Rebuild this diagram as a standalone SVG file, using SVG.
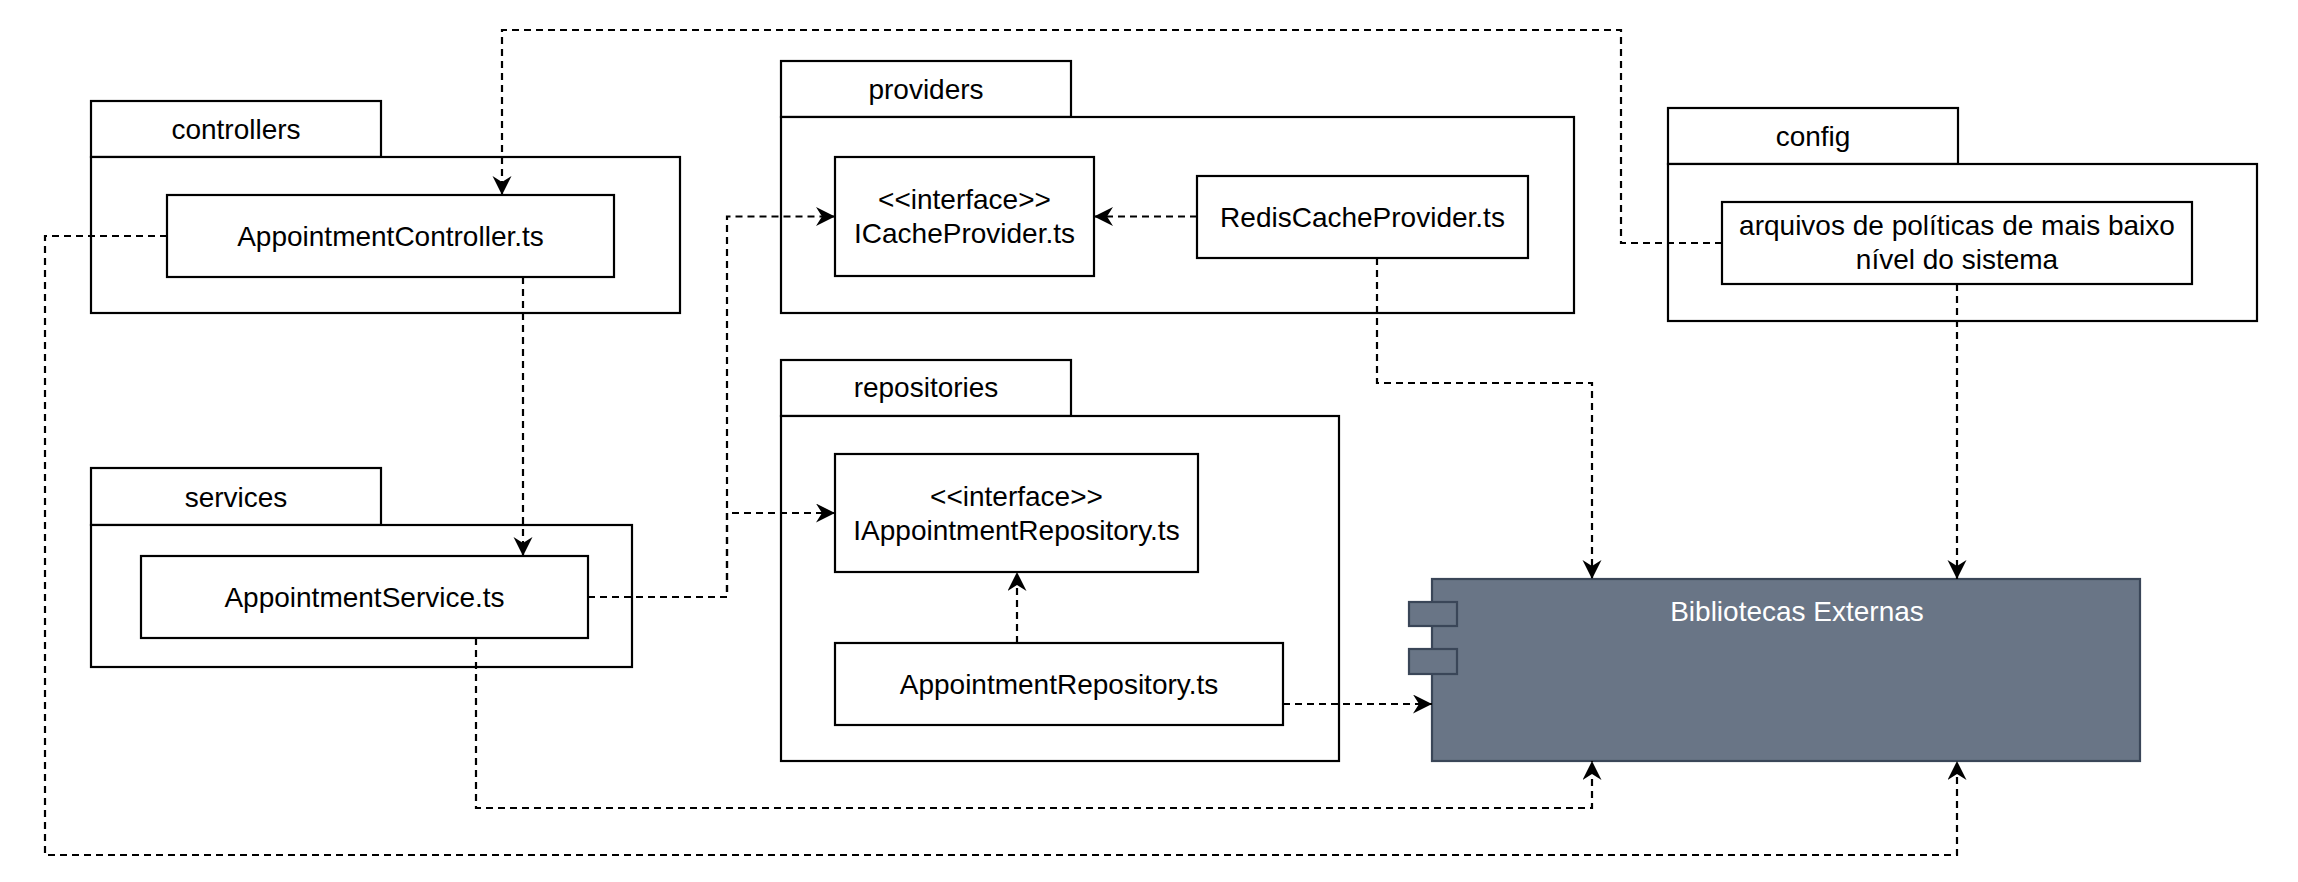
<svg xmlns="http://www.w3.org/2000/svg" width="2298" height="882" viewBox="0 0 2298 882">
<style>
.box{fill:#ffffff;stroke:#000000;stroke-width:2.2}
.lbl{font-family:"Liberation Sans",Arial,Helvetica,sans-serif;font-size:28px;fill:#000000;text-anchor:middle}
.edge{fill:none;stroke:#000000;stroke-width:2.2;stroke-dasharray:7 5}
.comp{fill:#697586;stroke:#3a4658;stroke-width:2.2}
.wl{font-family:"Liberation Sans",Arial,Helvetica,sans-serif;font-size:28px;fill:#ffffff;text-anchor:middle}
</style>
<defs>
<marker id="arr" markerWidth="20" markerHeight="20" refX="19" refY="9.5" orient="auto" markerUnits="userSpaceOnUse">
<path d="M0,0 L19,9.5 L0,19 L6,9.5 Z" fill="#000000"/>
</marker>
</defs>
<rect width="2298" height="882" fill="#ffffff"/>

<g id="pkg-controllers">
<rect class="box" x="91" y="101" width="290" height="56"/>
<rect class="box" x="91" y="157" width="589" height="156"/>
<text class="lbl" x="236" y="139">controllers</text>
</g>
<g id="pkg-providers">
<rect class="box" x="781" y="61" width="290" height="56"/>
<rect class="box" x="781" y="117" width="793" height="196"/>
<text class="lbl" x="926" y="99">providers</text>
</g>
<g id="pkg-config">
<rect class="box" x="1668" y="108" width="290" height="56"/>
<rect class="box" x="1668" y="164" width="589" height="157"/>
<text class="lbl" x="1813" y="146">config</text>
</g>
<g id="pkg-services">
<rect class="box" x="91" y="468" width="290" height="57"/>
<rect class="box" x="91" y="525" width="541" height="142"/>
<text class="lbl" x="236" y="507">services</text>
</g>
<g id="pkg-repositories">
<rect class="box" x="781" y="360" width="290" height="56"/>
<rect class="box" x="781" y="416" width="558" height="345"/>
<text class="lbl" x="926" y="397">repositories</text>
</g>

<g id="AppointmentController">
<rect class="box" x="167" y="195" width="447" height="82"/>
<text class="lbl" x="390.5" y="246">AppointmentController.ts</text>
</g>
<g id="ICacheProvider">
<rect class="box" x="835" y="157" width="259" height="119"/>
<text class="lbl" x="964.5" y="209">&lt;&lt;interface&gt;&gt;</text>
<text class="lbl" x="964.5" y="243">ICacheProvider.ts</text>
</g>
<g id="RedisCacheProvider">
<rect class="box" x="1197" y="176" width="331" height="82"/>
<text class="lbl" x="1362.5" y="227">RedisCacheProvider.ts</text>
</g>
<g id="ConfigFiles">
<rect class="box" x="1722" y="202" width="470" height="82"/>
<text class="lbl" x="1957" y="235">arquivos de políticas de mais baixo</text>
<text class="lbl" x="1957" y="269">nível do sistema</text>
</g>
<g id="AppointmentService">
<rect class="box" x="141" y="556" width="447" height="82"/>
<text class="lbl" x="364.5" y="607">AppointmentService.ts</text>
</g>
<g id="IAppointmentRepository">
<rect class="box" x="835" y="454" width="363" height="118"/>
<text class="lbl" x="1016.5" y="506">&lt;&lt;interface&gt;&gt;</text>
<text class="lbl" x="1016.5" y="540">IAppointmentRepository.ts</text>
</g>
<g id="AppointmentRepository">
<rect class="box" x="835" y="643" width="448" height="82"/>
<text class="lbl" x="1059" y="694">AppointmentRepository.ts</text>
</g>
<g id="BibliotecasExternas">
<rect class="comp" x="1432" y="579" width="708" height="182"/>
<rect class="comp" x="1409" y="602" width="48" height="24"/>
<rect class="comp" x="1409" y="649" width="48" height="25"/>
<text class="wl" x="1797" y="621">Bibliotecas Externas</text>
</g>

<g id="connectors">
<path class="edge" d="M1722,243 H1621 V30 H502 V195" marker-end="url(#arr)"/>
<path class="edge" d="M523,277 V556" marker-end="url(#arr)"/>
<path class="edge" d="M167,236 H45 V855 H1957 V761" marker-end="url(#arr)"/>
<path class="edge" d="M588,597 H727 V216.5 H835" marker-end="url(#arr)"/>
<path class="edge" d="M588,597 H727 V513 H835" marker-end="url(#arr)"/>
<path class="edge" d="M476,638 V808 H1592 V761" marker-end="url(#arr)"/>
<path class="edge" d="M1197,216.5 H1094" marker-end="url(#arr)"/>
<path class="edge" d="M1377,258 V383 H1592 V579" marker-end="url(#arr)"/>
<path class="edge" d="M1957,284 V579" marker-end="url(#arr)"/>
<path class="edge" d="M1017,643 V572" marker-end="url(#arr)"/>
<path class="edge" d="M1283,704 H1432" marker-end="url(#arr)"/>
</g>
</svg>
